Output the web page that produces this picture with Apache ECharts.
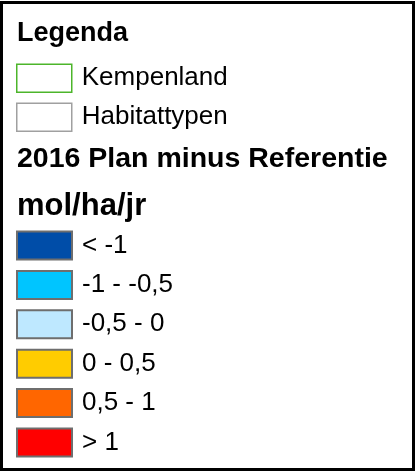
<!DOCTYPE html>
<html>
<head>
<meta charset="utf-8">
<script src="https://cdn.jsdelivr.net/npm/echarts@6/dist/echarts.min.js"></script>
<style>
html,body{margin:0;padding:0;background:#fff;}
#chart{width:415px;height:472px;}
</style>
</head>
<body>
<div id="chart"></div>
<script>
// ---- data ----
const legendTitle = 'Legenda';
const groupNames = ['Kempenland', 'Habitattypen'];
const groupBorders = ['#4DB52B', '#A0A0A0'];
const sectionTitle = '2016 Plan minus Referentie';
const unitTitle = 'mol/ha/jr';
const classLabels = ['< -1', '-1 - -0,5', '-0,5 - 0', '0 - 0,5', '0,5 - 1', '> 1'];
const classColors = ['#004DA8', '#00C5FF', '#BEE8FF', '#FFCC00', '#FF6600', '#FF0000'];
const classBorder = '#6E6E6E';

const FONT = '"Liberation Sans", Arial, sans-serif';

const chart = echarts.init(document.getElementById('chart'), null, {renderer: 'canvas'});

const series = [];
groupNames.forEach((n, i) => series.push({
  type: 'bar', name: n, data: [],
  itemStyle: {color: '#ffffff', borderColor: groupBorders[i], borderWidth: 1.5}
}));
classLabels.forEach((n, i) => series.push({
  type: 'bar', name: n, data: [],
  itemStyle: {color: classColors[i], borderColor: classBorder, borderWidth: 2}
}));

const legendText = {fontSize: 26, fontFamily: FONT, color: '#000', padding: [0, 0, 0, 5], lineHeight: 28};

const option = {
  animation: false,
  backgroundColor: '#ffffff',
  grid: {show: false, left: 0, right: 0, top: 0, bottom: 0},
  xAxis: {type: 'category', show: false, data: []},
  yAxis: {type: 'value', show: false},
  legend: [
    {
      orient: 'vertical', left: 16, top: 63.5, padding: 0,
      itemWidth: 55, itemHeight: 28, itemGap: 9.5, icon: 'rect',
      selectedMode: false, textStyle: legendText,
      data: groupNames.map((n, i) => ({
        name: n, icon: 'rect',
        itemStyle: {color: '#ffffff', borderColor: groupBorders[i], borderWidth: 1.5}
      }))
    },
    {
      orient: 'vertical', left: 16, top: 230.5, padding: 0,
      itemWidth: 55, itemHeight: 28, itemGap: 9.4, icon: 'rect',
      selectedMode: false, textStyle: legendText,
      data: classLabels.map((n, i) => ({
        name: n, icon: 'rect',
        itemStyle: {color: classColors[i], borderColor: classBorder, borderWidth: 2}
      }))
    }
  ],
  graphic: [
    {type: 'rect', shape: {x: 1.5, y: 2.5, width: 412, height: 467},
     style: {fill: 'none', stroke: '#000', lineWidth: 3}, silent: true},
    {type: 'text', x: 17, y: 34,
     style: {text: legendTitle, font: 'bold 27px ' + FONT, fill: '#000', verticalAlign: 'middle'}},
    {type: 'text', x: 17, y: 159.5,
     style: {text: sectionTitle, font: 'bold 28.5px ' + FONT, fill: '#000', verticalAlign: 'middle'}},
    {type: 'text', x: 17, y: 206,
     style: {text: unitTitle, font: 'bold 31px ' + FONT, fill: '#000', verticalAlign: 'middle'}}
  ],
  series: series
};
chart.setOption(option);
</script>
</body>
</html>
